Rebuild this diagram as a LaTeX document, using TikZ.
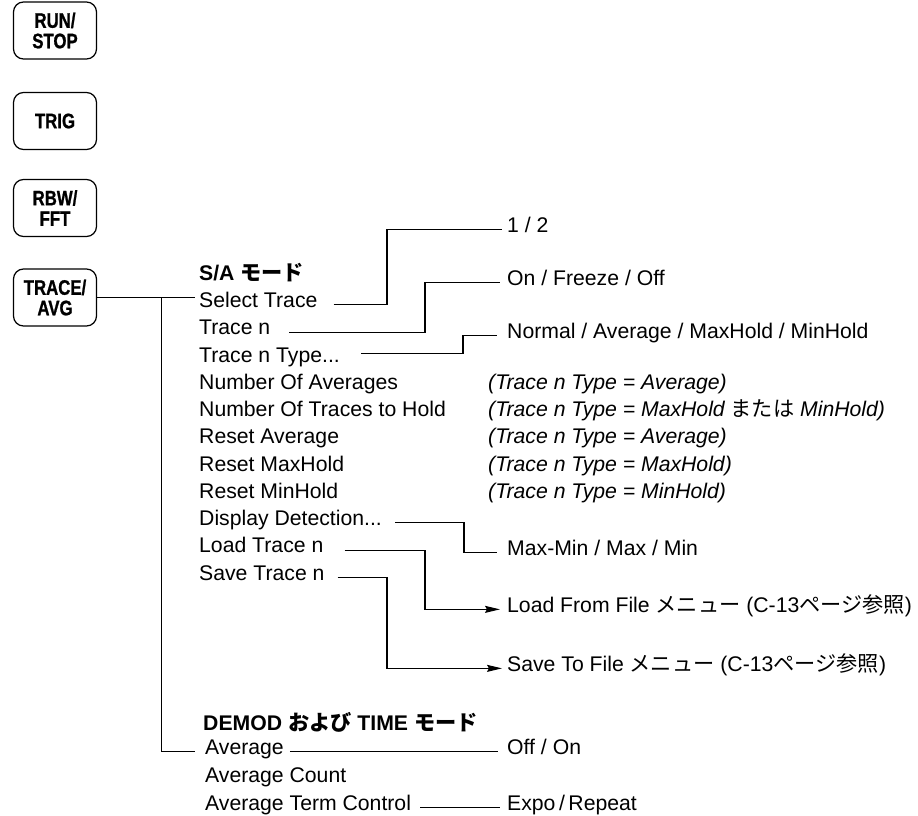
\documentclass[tikz,border=0pt]{standalone}
\usepackage{fontspec}
\setmainfont{Liberation Sans}
\newfontfamily\jp{Noto Sans CJK JP}
\newfontfamily\btnfont{Liberation Sans}[FakeStretch=0.8,FakeBold=1]
\usetikzlibrary{arrows.meta}
\begin{document}
\begin{tikzpicture}[x=1pt,y=-1pt,
  lbl/.style={inner sep=0pt, anchor=base west, font=\fontsize{21.2}{25}\selectfont},
  hdr/.style={lbl, font=\fontsize{21.2}{25}\selectfont\bfseries},
  cond/.style={lbl, font=\fontsize{21.2}{25}\selectfont\itshape},
  key/.style={draw, line width=1.2pt, rounded corners=10pt, minimum width=83pt,
    minimum height=57pt, align=center, inner sep=0pt,
    font=\btnfont\bfseries\fontsize{21}{20.5}\selectfont},
  wire/.style={line width=1.1pt},
  arr/.style={wire, -{Stealth[length=15pt,width=7pt,inset=2pt]}}]
\useasboundingbox (0,0) rectangle (918,816);

% keys
\node[key] (runstop) at (55,30.5) {RUN/\\STOP};
\node[key] (trig) at (55,121) {TRIG};
\node[key] (rbw) at (55,208) {RBW/\\FFT};
\node[key] (trace) at (55,297.5) {TRACE/\\AVG};

% S/A menu
\node[hdr] (sa) at (199,280) {S/A {\jp モード}};
\node[lbl] (st) at (199,307.5) {Select Trace};
\node[lbl] (tn) at (199,334.75) {Trace n};
\node[lbl] (tt) at (199,362) {Trace n Type...};
\node[lbl] (na) at (199,389.25) {Number Of Averages};
\node[lbl] (nh) at (199,416.5) {Number Of Traces to Hold};
\node[lbl] (ra) at (199,443.75) {Reset Average};
\node[lbl] (rx) at (199,471) {Reset MaxHold};
\node[lbl] (rn) at (199,498.25) {Reset MinHold};
\node[lbl] (dd) at (199,525.5) {Display Detection...};
\node[lbl] (lt) at (199,552.75) {Load Trace n};
\node[lbl] (sv) at (199,580) {Save Trace n};

% conditions
\node[cond] (c1) at (488,389.25) {(Trace n Type = Average)};
\node[cond] (c2) at (488,416.5) {(Trace n Type = MaxHold {\jp\upshape または} MinHold)};
\node[cond] (c3) at (488,443.75) {(Trace n Type = Average)};
\node[cond] (c4) at (488,471) {(Trace n Type = MaxHold)};
\node[cond] (c5) at (488,498.25) {(Trace n Type = MinHold)};

% targets
\node[lbl] (t1) at (507,232) {1 / 2};
\node[lbl] (t2) at (507,285) {On / Freeze / Off};
\node[lbl] (t3) at (507,338) {Normal / Average / MaxHold / MinHold};
\node[lbl] (t4) at (507,555) {Max-Min / Max / Min};
\node[lbl] (t5) at (507,612) {Load From File {\jp メニュー} (C-13{\jp ページ参照})};
\node[lbl] (t6) at (507,671) {Save To File {\jp メニュー} (C-13{\jp ページ参照})};

% DEMOD / TIME
\node[hdr] (dm) at (203,730) {DEMOD {\jp および} TIME {\jp モード}};
\node[lbl] (av) at (205,754) {Average};
\node[lbl] (ac) at (205,782) {Average Count};
\node[lbl] (at) at (205,810) {Average Term Control};
\node[lbl] (t7) at (507,754) {Off / On};
\node[lbl] (t8) at (507,810) {Expo\,/\,Repeat};

% trunk
\coordinate (stx) at (trace.east -| st.west);
\draw[wire] (trace.east) -- ([xshift=-4pt]stx);
\coordinate (jn) at ([xshift=64pt]trace.east);
\draw[wire] (jn) |- ([xshift=-10pt]av.mid west);

% connectors
\draw[wire] ([xshift=16pt]st.mid east) -| ([xshift=-120pt]t1.mid west) -- ([xshift=-5pt]t1.mid west);
\draw[wire] ([xshift=19pt]tn.mid east) -| ([xshift=-82pt]t2.mid west) -- ([xshift=-7pt]t2.mid west);
\draw[wire] ([xshift=21pt,yshift=6pt]tt.mid east) -| ([xshift=-44pt]t3.mid west) -- ([xshift=-10pt]t3.mid west);
\draw[wire] ([xshift=13pt]dd.mid east) -| ([xshift=-43pt]t4.mid west) -- ([xshift=-10pt]t4.mid west);
\draw[arr] ([xshift=21pt]lt.mid east) -| ([xshift=-82pt]t5.mid west) -- ([xshift=-7pt]t5.mid west);
\draw[arr] ([xshift=13pt]sv.mid east) -| ([xshift=-120pt]t6.mid west) -- ([xshift=-5pt]t6.mid west);
\draw[wire] ([xshift=6pt]av.mid east) -- ([xshift=-9pt]t7.mid west);
\draw[wire] ([xshift=9pt]at.mid east) -- ([xshift=-7pt]t8.mid west);
\end{tikzpicture}
\end{document}
